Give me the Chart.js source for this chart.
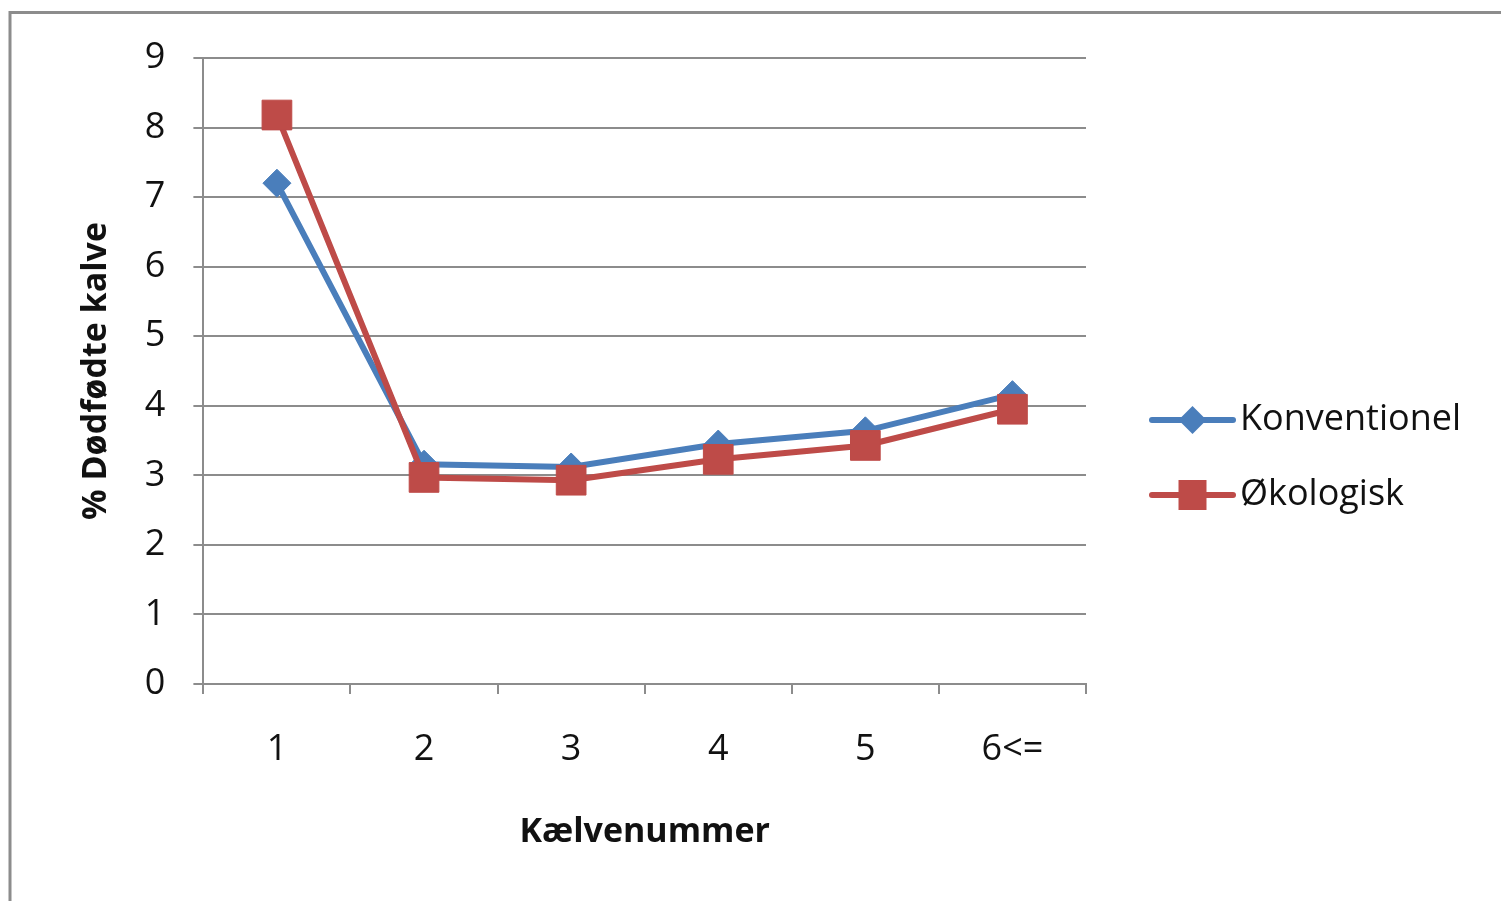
<!DOCTYPE html>
<html>
<head>
<meta charset="utf-8">
<script src="https://cdn.jsdelivr.net/npm/chart.js@4/dist/chart.umd.min.js"></script>
<style>
  html, body { margin: 0; padding: 0; background: #fff; }
  #wrap { width: 1501px; height: 901px; }
</style>
</head>
<body>
<div id="wrap"><canvas id="chart" width="1501" height="901"></canvas></div>
<script>
// data
const categories = ["1", "2", "3", "4", "5", "6<="];
const konventionel = [7.2, 3.16, 3.12, 3.45, 3.64, 4.16];
const okologisk = [8.18, 2.97, 2.93, 3.23, 3.43, 3.95];
const seriesNames = ["Konventionel", "Økologisk"];
const yMin = 0, yMax = 9, yStep = 1;

const blue = "#4A7EBB";
const red = "#BE4B48";
const fontFam = "'Open Sans', sans-serif";

// grey frame round the chart (left and top edges show)
const framePlugin = {
  id: "frame",
  beforeDraw(chart) {
    const ctx = chart.ctx;
    ctx.save();
    ctx.strokeStyle = "#8c8c8c";
    ctx.lineWidth = 3;
    ctx.beginPath();
    ctx.moveTo(10, chart.height + 5);
    ctx.lineTo(10, 12.5);
    ctx.lineTo(chart.width + 5, 12.5);
    ctx.stroke();
    ctx.restore();
  }
};

// legend with line + marker, like the office chart
const legendPlugin = {
  id: "lineLegend",
  afterDraw(chart) {
    const ctx = chart.ctx;
    const area = chart.chartArea;
    ctx.save();
    chart.data.datasets.forEach((ds, i) => {
      const y = 420 + i * 75;
      const x0 = area.right + 66, x1 = area.right + 147;
      const mx = (x0 + x1) / 2;
      ctx.strokeStyle = ds.borderColor;
      ctx.lineWidth = 6;
      ctx.lineCap = "round";
      ctx.beginPath();
      ctx.moveTo(x0, y);
      ctx.lineTo(x1, y);
      ctx.stroke();
      ctx.fillStyle = ds.pointBackgroundColor;
      ctx.beginPath();
      if (ds.pointStyle === "rectRot") {
        const r = 14;
        ctx.moveTo(mx, y - r);
        ctx.lineTo(mx + r, y);
        ctx.lineTo(mx, y + r);
        ctx.lineTo(mx - r, y);
        ctx.closePath();
      } else {
        ctx.rect(mx - 14, y - 15, 28, 30);
      }
      ctx.fill();
      ctx.fillStyle = "#111";
      ctx.font = "36px " + fontFam;
      ctx.textBaseline = "middle";
      ctx.textAlign = "left";
      ctx.fillText(ds.label, area.right + 154, y);
    });
    ctx.restore();
  }
};

new Chart(document.getElementById("chart"), {
  type: "line",
  data: {
    labels: categories,
    datasets: [
      {
        label: seriesNames[0],
        data: konventionel,
        borderColor: blue,
        backgroundColor: blue,
        pointBackgroundColor: blue,
        pointBorderColor: blue,
        borderWidth: 6,
        pointStyle: "rectRot",
        pointRadius: 14,
        pointBorderWidth: 1,
        order: 1
      },
      {
        label: seriesNames[1],
        data: okologisk,
        borderColor: red,
        backgroundColor: red,
        pointBackgroundColor: red,
        pointBorderColor: red,
        borderWidth: 6,
        pointStyle: "rect",
        pointRadius: 21,
        pointBorderWidth: 1,
        order: 0
      }
    ]
  },
  options: {
    responsive: false,
    devicePixelRatio: 1,
    animation: false,
    layout: { padding: { left: 76, right: 415, top: 58, bottom: 48 } },
    plugins: {
      legend: { display: false },
      tooltip: { enabled: false }
    },
    scales: {
      x: {
        type: "category",
        offset: true,
        grid: { offset: true, drawOnChartArea: false, color: "#8c8c8c", lineWidth: 2, tickLength: 10 },
        border: { color: "#8c8c8c", width: 2 },
        ticks: { color: "#111", font: { family: fontFam, size: 36 }, padding: 34, maxRotation: 0 },
        title: {
          display: true,
          text: "Kælvenummer",
          color: "#111",
          font: { family: fontFam, size: 34, weight: "bold" },
          padding: { top: 7, bottom: 0 }
        }
      },
      y: {
        min: yMin,
        max: yMax,
        ticks: { stepSize: yStep, color: "#111", font: { family: fontFam, size: 36 }, padding: 28 },
        grid: { color: "#8c8c8c", lineWidth: 2, tickLength: 10 },
        border: { color: "#8c8c8c", width: 2 },
        title: {
          display: true,
          text: "% Dødfødte kalve",
          color: "#111",
          font: { family: fontFam, size: 34, weight: "bold" },
          padding: { top: 0, bottom: 0 }
        }
      }
    }
  },
  plugins: [framePlugin, legendPlugin]
});
</script>
</body>
</html>
